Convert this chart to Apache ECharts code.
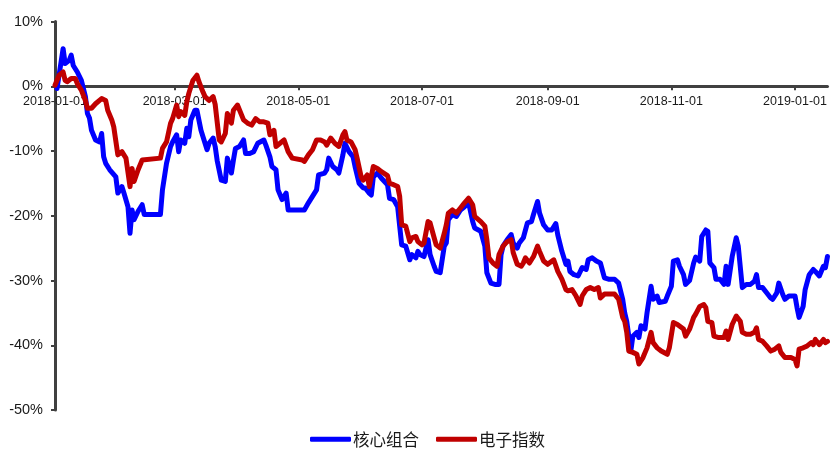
<!DOCTYPE html>
<html><head><meta charset="utf-8">
<script src="https://cdn.jsdelivr.net/npm/echarts@6/dist/echarts.min.js"></script>
<style>html,body{margin:0;padding:0;background:#fff}#c{width:830px;height:450px}</style>
</head><body><div id="c"></div>
<script>
const seriesNames = ['核心组合', '电子指数'];
const tickLabels = ['2018-01-01','2018-03-01','2018-05-01','2018-07-01','2018-09-01','2018-11-01','2019-01-01'];
const yTicks = [10, 0, -10, -20, -30, -40, -50];

const coreDates = ['2018-01-02','2018-01-05','2018-01-06','2018-01-08','2018-01-09','2018-01-10','2018-01-12','2018-01-14','2018-01-16','2018-01-17','2018-01-18','2018-01-19','2018-01-21','2018-01-23','2018-01-24','2018-01-25','2018-01-26','2018-01-28','2018-01-31','2018-02-01','2018-02-03','2018-02-04','2018-02-06','2018-02-07','2018-02-08','2018-02-09','2018-02-11','2018-02-13','2018-02-14','2018-02-22','2018-02-23','2018-02-25','2018-02-27','2018-02-28','2018-03-02','2018-03-03','2018-03-04','2018-03-06','2018-03-07','2018-03-08','2018-03-09','2018-03-11','2018-03-12','2018-03-14','2018-03-15','2018-03-17','2018-03-18','2018-03-20','2018-03-21','2018-03-22','2018-03-24','2018-03-26','2018-03-27','2018-03-29','2018-03-30','2018-03-31','2018-04-02','2018-04-04','2018-04-05','2018-04-07','2018-04-09','2018-04-11','2018-04-14','2018-04-15','2018-04-17','2018-04-18','2018-04-20','2018-04-21','2018-04-23','2018-04-25','2018-04-26','2018-04-29','2018-05-04','2018-05-06','2018-05-08','2018-05-10','2018-05-11','2018-05-14','2018-05-15','2018-05-16','2018-05-18','2018-05-20','2018-05-21','2018-05-23','2018-05-24','2018-05-26','2018-05-28','2018-05-29','2018-05-31','2018-06-02','2018-06-03','2018-06-05','2018-06-06','2018-06-07','2018-06-09','2018-06-11','2018-06-14','2018-06-15','2018-06-17','2018-06-19','2018-06-20','2018-06-21','2018-06-23','2018-06-25','2018-06-26','2018-06-28','2018-06-29','2018-06-30','2018-07-02','2018-07-04','2018-07-05','2018-07-07','2018-07-08','2018-07-10','2018-07-12','2018-07-13','2018-07-14','2018-07-16','2018-07-18','2018-07-20','2018-07-22','2018-07-24','2018-07-26','2018-07-27','2018-07-30','2018-08-01','2018-08-02','2018-08-04','2018-08-06','2018-08-08','2018-08-09','2018-08-10','2018-08-12','2018-08-14','2018-08-15','2018-08-17','2018-08-18','2018-08-20','2018-08-22','2018-08-24','2018-08-25','2018-08-26','2018-08-27','2018-08-28','2018-08-30','2018-09-01','2018-09-03','2018-09-05','2018-09-06','2018-09-08','2018-09-10','2018-09-11','2018-09-12','2018-09-14','2018-09-16','2018-09-18','2018-09-20','2018-09-21','2018-09-23','2018-09-25','2018-09-27','2018-09-29','2018-10-01','2018-10-04','2018-10-06','2018-10-08','2018-10-09','2018-10-10','2018-10-11','2018-10-12','2018-10-13','2018-10-15','2018-10-16','2018-10-17','2018-10-19','2018-10-20','2018-10-22','2018-10-23','2018-10-25','2018-10-26','2018-10-29','2018-10-30','2018-11-01','2018-11-02','2018-11-04','2018-11-05','2018-11-07','2018-11-08','2018-11-10','2018-11-12','2018-11-13','2018-11-15','2018-11-16','2018-11-18','2018-11-19','2018-11-20','2018-11-22','2018-11-23','2018-11-25','2018-11-27','2018-11-28','2018-11-29','2018-12-01','2018-12-03','2018-12-04','2018-12-06','2018-12-08','2018-12-10','2018-12-12','2018-12-13','2018-12-14','2018-12-16','2018-12-18','2018-12-20','2018-12-21','2018-12-23','2018-12-24','2018-12-26','2018-12-27','2018-12-29','2019-01-01','2019-01-02','2019-01-03','2019-01-05','2019-01-06','2019-01-08','2019-01-10','2019-01-11','2019-01-13','2019-01-15','2019-01-16','2019-01-17'];
const coreValues = [-0.35,5.8,3.5,4.0,4.8,3.2,2.2,0.9,-1.6,-4.2,-4.9,-6.8,-8.3,-8.6,-7.3,-10.9,-11.9,-12.9,-14.0,-16.5,-15.5,-16.5,-18.6,-22.7,-19.1,-20.6,-19.3,-18.3,-19.8,-19.8,-16.0,-11.9,-9.3,-8.6,-7.5,-10.1,-8.3,-8.8,-6.5,-7.8,-5.2,-3.7,-3.7,-6.8,-7.8,-9.8,-8.8,-8.0,-9.3,-11.5,-14.5,-14.7,-11.1,-13.4,-11.4,-9.6,-9.3,-8.3,-10.4,-10.4,-10.1,-8.8,-8.3,-9.1,-10.9,-12.4,-12.9,-16.0,-17.5,-16.5,-19.1,-19.1,-19.1,-18.0,-17.0,-16.0,-13.7,-13.4,-12.9,-11.1,-12.4,-12.9,-13.4,-10.6,-8.8,-10.1,-10.9,-12.4,-15.0,-15.7,-15.7,-16.5,-16.8,-14.0,-13.4,-14.2,-15.2,-17.3,-17.5,-18.6,-21.6,-24.5,-24.7,-26.8,-26.0,-26.5,-25.5,-26.0,-26.3,-23.7,-26.0,-27.8,-28.6,-28.8,-24.7,-24.2,-20.6,-19.8,-20.1,-19.1,-18.6,-18.0,-20.9,-21.9,-22.4,-24.7,-28.8,-30.4,-30.6,-30.6,-26.0,-24.7,-23.7,-22.9,-24.2,-25.0,-24.2,-23.4,-21.1,-20.9,-19.8,-18.8,-17.8,-19.6,-21.4,-22.2,-22.2,-21.2,-23.0,-25.5,-27.5,-27.0,-28.6,-29.1,-29.3,-28.0,-28.3,-26.8,-26.5,-27.0,-27.3,-29.6,-29.8,-29.8,-30.4,-32.9,-35.0,-36.3,-38.6,-40.9,-38.6,-38.0,-38.8,-37.0,-37.5,-35.0,-30.9,-32.9,-32.4,-33.4,-33.2,-32.4,-30.9,-27.0,-26.8,-27.8,-29.1,-30.6,-30.0,-27.3,-26.4,-27.0,-23.2,-22.2,-22.4,-27.3,-28.0,-29.8,-29.8,-30.6,-27.8,-30.6,-26.3,-23.4,-24.7,-31.1,-30.6,-30.6,-30.1,-29.1,-31.1,-31.1,-31.9,-32.7,-32.9,-31.9,-30.4,-32.2,-32.9,-32.4,-32.4,-34.2,-35.7,-34.0,-31.4,-29.1,-28.3,-28.6,-29.3,-27.8,-28.0,-26.3];

const indexDates = ['2018-01-01','2018-01-03','2018-01-05','2018-01-06','2018-01-07','2018-01-09','2018-01-11','2018-01-12','2018-01-14','2018-01-16','2018-01-17','2018-01-19','2018-01-21','2018-01-24','2018-01-26','2018-01-27','2018-01-29','2018-01-30','2018-02-01','2018-02-03','2018-02-05','2018-02-07','2018-02-08','2018-02-09','2018-02-11','2018-02-13','2018-02-22','2018-02-23','2018-02-25','2018-02-27','2018-02-28','2018-03-02','2018-03-03','2018-03-04','2018-03-06','2018-03-07','2018-03-08','2018-03-10','2018-03-12','2018-03-13','2018-03-15','2018-03-16','2018-03-18','2018-03-20','2018-03-21','2018-03-23','2018-03-24','2018-03-26','2018-03-27','2018-03-29','2018-03-30','2018-04-01','2018-04-04','2018-04-06','2018-04-08','2018-04-10','2018-04-12','2018-04-14','2018-04-16','2018-04-17','2018-04-19','2018-04-20','2018-04-22','2018-04-24','2018-04-26','2018-04-28','2018-05-03','2018-05-04','2018-05-06','2018-05-08','2018-05-10','2018-05-12','2018-05-14','2018-05-15','2018-05-17','2018-05-19','2018-05-21','2018-05-23','2018-05-24','2018-05-25','2018-05-27','2018-05-29','2018-05-30','2018-06-01','2018-06-02','2018-06-04','2018-06-05','2018-06-07','2018-06-09','2018-06-11','2018-06-14','2018-06-15','2018-06-17','2018-06-19','2018-06-20','2018-06-21','2018-06-23','2018-06-25','2018-06-26','2018-06-28','2018-06-29','2018-07-01','2018-07-02','2018-07-04','2018-07-05','2018-07-07','2018-07-08','2018-07-10','2018-07-12','2018-07-13','2018-07-14','2018-07-16','2018-07-18','2018-07-20','2018-07-22','2018-07-24','2018-07-26','2018-07-27','2018-07-30','2018-08-01','2018-08-02','2018-08-03','2018-08-05','2018-08-07','2018-08-08','2018-08-10','2018-08-12','2018-08-14','2018-08-15','2018-08-17','2018-08-19','2018-08-20','2018-08-21','2018-08-23','2018-08-25','2018-08-27','2018-08-28','2018-08-30','2018-09-01','2018-09-04','2018-09-06','2018-09-08','2018-09-10','2018-09-11','2018-09-13','2018-09-15','2018-09-17','2018-09-18','2018-09-20','2018-09-22','2018-09-24','2018-09-26','2018-09-27','2018-09-29','2018-10-04','2018-10-06','2018-10-08','2018-10-09','2018-10-10','2018-10-11','2018-10-13','2018-10-15','2018-10-16','2018-10-18','2018-10-20','2018-10-22','2018-10-23','2018-10-25','2018-10-27','2018-10-30','2018-10-31','2018-11-02','2018-11-04','2018-11-07','2018-11-08','2018-11-10','2018-11-12','2018-11-13','2018-11-15','2018-11-17','2018-11-18','2018-11-19','2018-11-21','2018-11-22','2018-11-24','2018-11-27','2018-11-28','2018-11-29','2018-12-01','2018-12-03','2018-12-05','2018-12-06','2018-12-08','2018-12-10','2018-12-12','2018-12-13','2018-12-14','2018-12-16','2018-12-18','2018-12-20','2018-12-22','2018-12-24','2018-12-25','2018-12-27','2018-12-30','2019-01-01','2019-01-02','2019-01-03','2019-01-05','2019-01-07','2019-01-09','2019-01-10','2019-01-11','2019-01-13','2019-01-15','2019-01-16','2019-01-17'];
const indexValues = [0.15,1.7,2.2,0.9,0.7,1.2,1.2,0.4,-0.6,-2.2,-3.4,-3.4,-2.7,-1.9,-2.2,-3.7,-5.2,-6.3,-10.6,-10.1,-11.1,-15.5,-12.7,-14.7,-12.9,-11.4,-11.1,-9.6,-8.6,-5.7,-5.0,-2.9,-4.7,-3.9,-4.5,-2.4,-1.1,0.9,1.7,0.7,-0.9,-1.6,-2.2,-1.6,-2.8,-8.3,-8.6,-7.3,-4.2,-5.7,-3.7,-2.9,-5.2,-5.7,-6.0,-5.0,-5.5,-5.5,-5.7,-7.5,-6.8,-9.3,-8.8,-8.3,-10.1,-11.1,-11.4,-11.6,-10.6,-9.8,-8.3,-8.3,-8.6,-9.1,-8.0,-8.8,-9.3,-7.5,-7.0,-8.3,-8.6,-9.8,-11.1,-14.0,-14.5,-13.7,-15.5,-12.4,-12.7,-13.2,-13.8,-15.0,-15.2,-15.5,-17.0,-21.4,-21.6,-24.0,-23.4,-23.2,-24.0,-24.5,-24.2,-20.9,-21.1,-23.4,-24.5,-25.0,-22.7,-21.4,-19.6,-19.1,-19.6,-18.8,-18.0,-17.3,-18.3,-20.1,-20.9,-21.6,-23.7,-26.5,-27.3,-27.8,-26.0,-24.7,-24.0,-23.7,-25.7,-27.5,-27.8,-27.3,-26.5,-27.3,-26.3,-24.7,-25.5,-27.0,-27.5,-26.8,-28.6,-29.8,-31.4,-31.6,-31.4,-32.4,-33.7,-32.4,-31.4,-31.1,-31.4,-31.1,-32.7,-32.1,-32.1,-32.9,-35.7,-36.3,-38.0,-40.9,-41.1,-41.4,-42.9,-41.9,-40.4,-38.0,-39.6,-40.4,-40.9,-41.4,-40.4,-36.5,-36.8,-37.5,-38.6,-37.5,-35.7,-35.2,-34.0,-33.7,-34.2,-36.3,-36.5,-38.6,-38.8,-38.8,-37.8,-39.1,-36.8,-35.5,-36.3,-38.0,-38.3,-38.3,-38.0,-37.3,-39.1,-39.4,-40.1,-40.9,-40.6,-40.1,-41.1,-41.9,-41.9,-42.2,-43.2,-40.6,-40.4,-40.1,-39.6,-39.9,-39.1,-39.9,-39.1,-39.6,-39.4];

function ts(s) { const p = s.split('-').map(Number); return new Date(p[0], p[1] - 1, p[2]).getTime(); }
function pad(n) { return n < 10 ? '0' + n : '' + n; }
function fmt(v) { const d = new Date(v); return d.getFullYear() + '-' + pad(d.getMonth() + 1) + '-' + pad(d.getDate()); }

const tickTs = tickLabels.map(ts);
const coreData = coreDates.map((d, i) => [ts(d), coreValues[i]]);
const indexData = indexDates.map((d, i) => [ts(d), indexValues[i]]);

const FONT = 'Arial, "Liberation Sans", sans-serif';
const AX = '#404040';
const Y_MIN = -50, Y_MAX = 10;
const GRID_TOP = 21.5, GRID_BOTTOM = 40, H = 450;
const plotH = H - GRID_TOP - GRID_BOTTOM;
// move the x axis (line, ticks, labels) up to the 0% level
const zeroOffset = -plotH * (0 - Y_MIN) / (Y_MAX - Y_MIN);

const chart = echarts.init(document.getElementById('c'), null, { renderer: 'canvas' });
chart.setOption({
  animation: false,
  backgroundColor: '#ffffff',
  grid: { left: 55, right: 0, top: GRID_TOP, bottom: GRID_BOTTOM, containLabel: false },
  legend: {
    top: 431,
    left: 310,
    padding: 0,
    itemWidth: 41,
    itemHeight: 5,
    itemGap: 17,
    icon: 'roundRect',
    textStyle: { fontFamily: '"Noto Sans CJK SC", sans-serif', fontSize: 16.5, color: '#1a1a1a', padding: [0, 0, 0, -3] },
    data: seriesNames
  },
  xAxis: {
    type: 'value',
    min: ts('2018-01-01'),
    max: ts('2019-01-17'),
    offset: zeroOffset,
    axisLine: { onZero: false, lineStyle: { color: AX, width: 3 } },
    axisTick: { show: true, customValues: tickTs, length: 4, lineStyle: { color: AX, width: 2 } },
    axisLabel: {
      customValues: tickTs,
      formatter: function (v) { return fmt(v); },
      fontFamily: FONT, fontSize: 12.5, color: '#1a1a1a', margin: 9,
      showMinLabel: true, showMaxLabel: true
    },
    splitLine: { show: false }
  },
  yAxis: {
    type: 'value',
    min: Y_MIN, max: Y_MAX, interval: 10,
    axisLine: { show: true, lineStyle: { color: AX, width: 3 } },
    axisTick: { show: true, length: 4, lineStyle: { color: AX, width: 2 } },
    axisLabel: { formatter: '{value}%', fontFamily: FONT, fontSize: 14.5, color: '#1a1a1a', margin: 12 },
    splitLine: { show: false }
  },
  series: [
    {
      name: seriesNames[0], type: 'line', data: coreData, showSymbol: false, symbol: 'none',
      lineStyle: { color: '#0000FF', width: 5, cap: 'round', join: 'round' },
      itemStyle: { color: '#0000FF' }, z: 2
    },
    {
      name: seriesNames[1], type: 'line', data: indexData, showSymbol: false, symbol: 'none',
      lineStyle: { color: '#C00000', width: 5, cap: 'round', join: 'round' },
      itemStyle: { color: '#C00000' }, z: 3
    }
  ]
});
</script>
</body></html>
